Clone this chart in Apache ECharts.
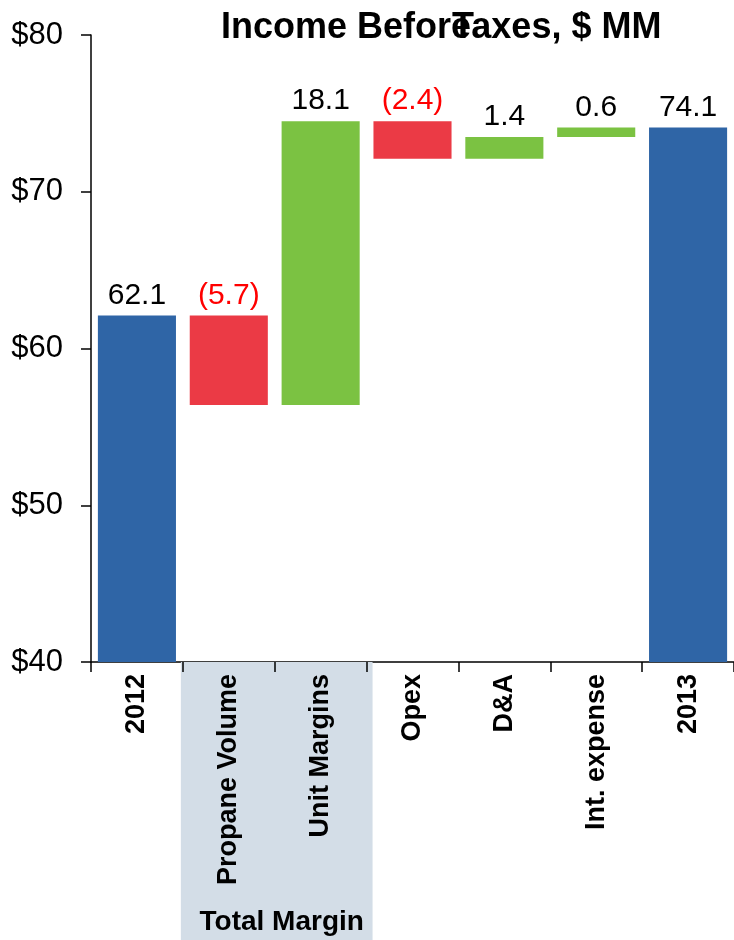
<!DOCTYPE html>
<html>
<head>
<meta charset="utf-8">
<script src="https://cdn.jsdelivr.net/npm/echarts@6/dist/echarts.min.js"></script>
<style>
  html, body { margin: 0; padding: 0; background: #fff; }
  #chart { width: 734px; height: 940px; }
</style>
</head>
<body>
<div id="chart"></div>
<script>
// Bridge of income before taxes, $ MM
const categories = ['2012', 'Propane Volume', 'Unit Margins', 'Opex', 'D&A', 'Int. expense', '2013'];
const changes = [62.1, -5.7, 18.1, -2.4, 1.4, 0.6, 74.1];
const isTotal = [true, false, false, false, false, false, true];
const yTicks = [40, 50, 60, 70, 80];
const groupLabel = 'Total Margin';
const groupCategories = ['Propane Volume', 'Unit Margins'];

const BLUE = '#2f65a6';
const RED = '#eb3a45';
const GREEN = '#7bc242';
const SHADE = '#d3dde7';
const FONT = '"Liberation Sans", Arial, sans-serif';

// Floating bar bases: totals start at zero, steps start at the running level
const bases = [];
const heights = [];
let level = 0;
changes.forEach((v, i) => {
  if (isTotal[i]) {
    bases.push(0);
    heights.push(v);
    level = v;
  } else {
    const next = level + v;
    bases.push(Math.min(level, next));
    heights.push(Math.abs(v));
    level = next;
  }
});

const colorOf = i => isTotal[i] ? BLUE : (changes[i] < 0 ? RED : GREEN);
const labelOf = i => changes[i] < 0 ? '(' + Math.abs(changes[i]).toFixed(1) + ')' : changes[i].toFixed(1);

const chart = echarts.init(document.getElementById('chart'), null, { renderer: 'canvas' });

const grid = { left: 91, right: 0, top: 35, bottom: 278 };

chart.setOption({
  animation: false,
  backgroundColor: '#ffffff',
  grid: grid,
  xAxis: [
    {
      type: 'category',
      data: categories,
      z: 0,
      axisLine: { show: true, lineStyle: { color: '#000', width: 1.5 } },
      axisTick: { show: false },
      axisLabel: { show: false }
    },
    {
      type: 'category',
      data: categories,
      position: 'bottom',
      z: 5,
      axisLine: { show: false },
      axisTick: { show: true, alignWithLabel: false, length: 10, lineStyle: { color: '#000', width: 1.5 } },
      axisLabel: {
        show: true,
        rotate: 90,
        margin: 12,
        color: '#000',
        fontFamily: FONT,
        fontWeight: 'bold',
        fontSize: 27
      }
    }
  ],
  yAxis: {
    type: 'value',
    min: yTicks[0],
    max: yTicks[yTicks.length - 1],
    interval: 10,
    axisLine: { show: true, lineStyle: { color: '#000', width: 1.5 } },
    axisTick: { show: true, length: 10, lineStyle: { color: '#000', width: 1.5 } },
    splitLine: { show: false },
    axisLabel: {
      color: '#000',
      fontFamily: FONT,
      fontSize: 31,
      margin: 28,
      formatter: v => '$' + v
    }
  },
  series: [
    {
      name: 'base',
      type: 'bar',
      stack: 'bridge',
      barCategoryGap: '15%',
      itemStyle: { color: 'transparent' },
      emphasis: { disabled: true },
      data: bases
    },
    {
      name: 'value',
      type: 'bar',
      stack: 'bridge',
      barCategoryGap: '15%',
      data: heights.map((h, i) => ({
        value: h,
        itemStyle: { color: colorOf(i) },
        label: {
          show: true,
          position: 'top',
          distance: 5,
          formatter: labelOf(i),
          color: changes[i] < 0 && !isTotal[i] ? '#ff0000' : '#000',
          fontFamily: FONT,
          fontSize: 30
        }
      }))
    }
  ]
});

// Band under the grouped category labels, plus the titles
const i0 = categories.indexOf(groupCategories[0]);
const i1 = categories.indexOf(groupCategories[groupCategories.length - 1]);
const c0 = chart.convertToPixel({ xAxisIndex: 0 }, categories[i0]);
const c1 = chart.convertToPixel({ xAxisIndex: 0 }, categories[i1]);
const step = c1 - c0;
const bandLeft = c0 - step / 2 - 2;
const bandRight = c1 + step / 2 + 6;
const axisY = chart.convertToPixel({ yAxisIndex: 0 }, yTicks[0]);

chart.setOption({
  graphic: [
    {
      type: 'rect',
      z: 2,
      shape: { x: bandLeft, y: axisY, width: bandRight - bandLeft, height: 940 - axisY },
      style: { fill: SHADE },
      silent: true
    },
    {
      type: 'text',
      z: 6,
      x: (bandLeft + bandRight) / 2 + 5,
      y: 936,
      style: {
        text: groupLabel,
        fill: '#000',
        font: 'bold 28px ' + FONT,
        textAlign: 'center',
        textVerticalAlign: 'bottom'
      }
    },
    {
      type: 'text',
      z: 6,
      x: 221,
      y: 46,
      style: {
        text: 'Income Before',
        fill: '#000',
        font: 'bold 36px ' + FONT,
        textAlign: 'left',
        textVerticalAlign: 'bottom'
      }
    },
    {
      type: 'text',
      z: 6,
      x: 452,
      y: 46,
      style: {
        text: 'Taxes, $ MM',
        fill: '#000',
        font: 'bold 36px ' + FONT,
        textAlign: 'left',
        textVerticalAlign: 'bottom'
      }
    }
  ]
});
</script>
</body>
</html>
